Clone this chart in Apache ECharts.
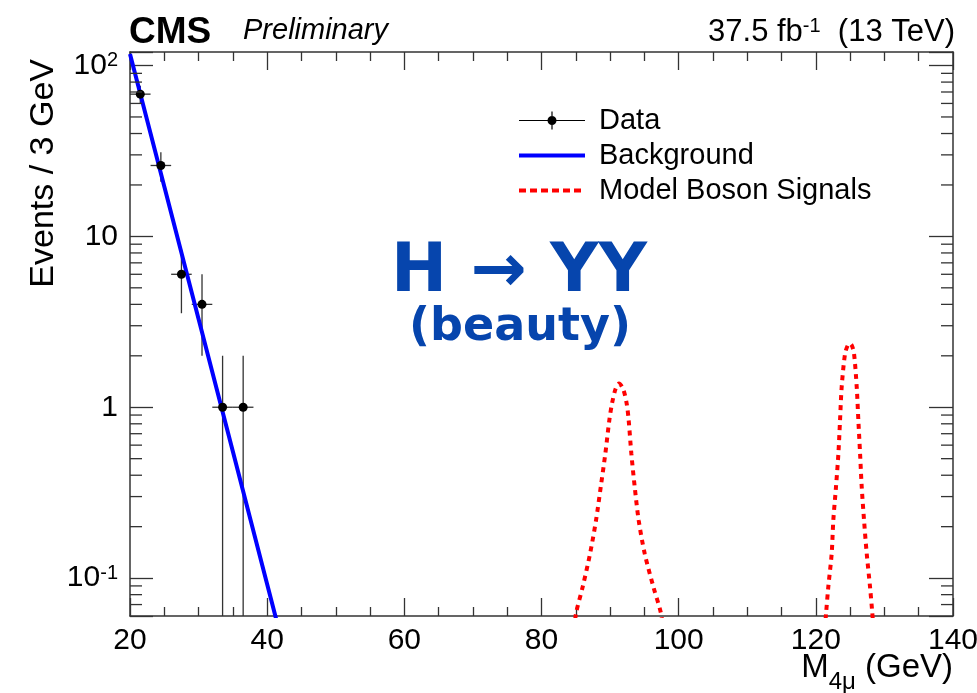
<!DOCTYPE html>
<html>
<head>
<meta charset="utf-8">
<script src="https://cdn.jsdelivr.net/npm/echarts@6/dist/echarts.min.js"></script>
<style>
  html, body { margin: 0; padding: 0; background: #ffffff; }
  #chart { width: 977px; height: 693px; }
</style>
</head>
<body>
<div id="chart"></div>
<script>
// Four-muon invariant mass spectrum, 3 GeV bins
const dataMass = [21.5, 24.5, 27.5, 30.5, 33.5, 36.5];
const dataEvents = [68, 26, 6, 4, 1, 1];
const dataErrDown = [8.2, 5.1, 2.45, 2.0, 1.0, 1.0];
const dataErrUp = [8.2, 5.1, 2.45, 2.0, 1.0, 1.0];
const binHalfWidth = [1.5, 1.5, 1.5, 1.5, 1.5, 1.5];

// Exponential background fit
const bkgMass = [20, 25, 30, 35, 40, 42];
const bkgEvents = [117, 19.6, 3.28, 0.55, 0.092, 0.045];

// Signal shapes near the Z and H masses
const sigZMass = [84.8, 85.03, 86.01, 87.08, 87.95, 88.64, 89.31, 89.89, 90.28, 90.8, 91.3, 91.9, 92.42, 92.71, 93.1, 93.59, 94.17, 95.05, 96.31, 97.43, 97.7];
const sigZEvents = [0.05, 0.062, 0.089, 0.139, 0.218, 0.342, 0.536, 0.839, 1.05, 1.28, 1.376, 1.28, 1.05, 0.839, 0.536, 0.342, 0.218, 0.139, 0.089, 0.062, 0.05];
const sigHMass = [121.3, 121.49, 121.82, 122.31, 122.55, 122.94, 123.29, 123.53, 123.77, 124.26, 124.65, 124.95, 125.25, 125.57, 125.96, 126.2, 126.45, 126.69, 127.03, 127.42, 127.9, 128.24, 128.4];
const sigHEvents = [0.05, 0.062, 0.089, 0.139, 0.218, 0.342, 0.536, 0.839, 1.316, 2.06, 2.3, 2.36, 2.3, 2.06, 1.316, 0.839, 0.536, 0.342, 0.218, 0.139, 0.089, 0.062, 0.05];

// Axis ranges and tick values
const X_MIN = 20, X_MAX = 140, X_STEP = 20;
const Y_MIN = 0.06, Y_MAX = 120;
const yMinorTicks = [0.07, 0.08, 0.09, 0.2, 0.3, 0.4, 0.5, 0.6, 0.7, 0.8, 0.9,
  2, 3, 4, 5, 6, 7, 8, 9, 20, 30, 40, 50, 60, 70, 80, 90];

const FONT = '"Liberation Sans", Arial, Helvetica, sans-serif';
const BIG_FONT = '"DejaVu Sans", sans-serif';
const FRAME = '#333333';
const zip = (a, b) => a.map((v, i) => [v, b[i]]);

// Legend glyph for the data points: horizontal + vertical bar with a dot
const dataIcon = 'path://M0 8.4H66V9.6H0Z M32.4 0H33.6V18H32.4Z M37.5 9A4.5 4.5 0 1 1 28.5 9A4.5 4.5 0 1 1 37.5 9Z';

function logLabel(v) {
  const e = Math.round(Math.log10(v));
  if (Math.abs(v / Math.pow(10, e) - 1) > 1e-6) return '';
  if (e === 0) return '1';
  if (e === 1) return '10';
  return '10{sup|' + e + '}';
}

const xAxisBase = {
  type: 'value', min: X_MIN, max: X_MAX, interval: X_STEP,
  axisLine: { show: true, onZero: false, lineStyle: { color: FRAME, width: 1.5 } },
  axisTick: { show: true, inside: true, length: 18, lineStyle: { color: FRAME, width: 1.3 } },
  minorTick: { show: true, splitNumber: 4, length: 9, lineStyle: { color: FRAME, width: 1.3 } },
  splitLine: { show: false }, minorSplitLine: { show: false }
};
const yAxisBase = {
  type: 'log', logBase: 10, min: Y_MIN, max: Y_MAX,
  axisLine: { show: true, onZero: false, lineStyle: { color: FRAME, width: 1.5 } },
  axisTick: { show: true, inside: true, length: 23, lineStyle: { color: FRAME, width: 1.3 } },
  splitLine: { show: false }
};

const chart = echarts.init(document.getElementById('chart'), null, { renderer: 'canvas' });

chart.setOption({
  animation: false,
  backgroundColor: '#ffffff',
  textStyle: { fontFamily: FONT },
  grid: { left: 130, right: 24, top: 52, bottom: 77, containLabel: false, outerBoundsMode: 'none' },
  xAxis: [
    Object.assign({}, xAxisBase, {
      position: 'bottom',
      axisLabel: { show: true, showMinLabel: true, showMaxLabel: true, hideOverlap: false,
        margin: 10, fontSize: 30, color: '#000', fontFamily: FONT }
    }),
    Object.assign({}, xAxisBase, { position: 'top', axisLabel: { show: false } })
  ],
  yAxis: [
    Object.assign({}, yAxisBase, {
      position: 'left',
      axisLabel: {
        show: true, margin: 12, fontSize: 30, color: '#000', fontFamily: FONT,
        formatter: logLabel,
        rich: { sup: { fontSize: 20, verticalAlign: 'top', color: '#000', fontFamily: FONT } }
      }
    }),
    Object.assign({}, yAxisBase, { position: 'right', axisTick: Object.assign({}, yAxisBase.axisTick, { length: 24 }), axisLabel: { show: false } })
  ],
  legend: {
    orient: 'vertical', left: 512, top: 101,
    itemWidth: 66, itemHeight: 18, itemGap: 6,
    selectedMode: false,
    textStyle: { fontSize: 29, color: '#000', fontFamily: FONT, padding: [0, 0, 0, 9] },
    data: [
      { name: 'Data', icon: dataIcon },
      { name: 'Background', itemStyle: { opacity: 0 }, lineStyle: { width: 4, color: '#0000ff' } },
      { name: 'Model Boson Signals', itemStyle: { opacity: 0 }, lineStyle: { width: 4, color: '#ff0000', type: [7, 4] } }
    ]
  },
  series: [
    {
      name: 'DataErrors', type: 'custom', silent: true, z: 2,
      xAxisIndex: 0, yAxisIndex: 0,
      encode: { x: 0, y: 1 },
      data: dataMass.map((x, i) => [x, dataEvents[i], binHalfWidth[i], dataErrDown[i], dataErrUp[i]]),
      renderItem: function (params, api) {
        const x = api.value(0), y = api.value(1), xe = api.value(2);
        const lo = Math.max(y - api.value(3), Y_MIN), hi = y + api.value(4);
        const pl = api.coord([x - xe, y]), pr = api.coord([x + xe, y]);
        const pt = api.coord([x, hi]), pb = api.coord([x, lo]);
        const st = { stroke: '#333', lineWidth: 1.3 };
        return { type: 'group', children: [
          { type: 'line', shape: { x1: pl[0], y1: pl[1], x2: pr[0], y2: pr[1] }, style: st },
          { type: 'line', shape: { x1: pt[0], y1: pt[1], x2: pb[0], y2: pb[1] }, style: st }
        ] };
      }
    },
    {
      name: 'Background', type: 'line', z: 3,
      data: zip(bkgMass, bkgEvents),
      symbol: 'none', showSymbol: false,
      lineStyle: { color: '#0000ff', width: 4 },
      itemStyle: { color: '#0000ff' }
    },
    {
      name: 'Model Boson Signals', type: 'line', z: 3,
      data: zip(sigZMass, sigZEvents),
      symbol: 'none', showSymbol: false, smooth: 0.3,
      lineStyle: { color: '#ff0000', width: 4, type: [5, 5] },
      itemStyle: { color: '#ff0000' }
    },
    {
      name: 'Model Boson Signals', type: 'line', z: 3,
      data: zip(sigHMass, sigHEvents),
      symbol: 'none', showSymbol: false, smooth: 0.3,
      lineStyle: { color: '#ff0000', width: 4, type: [5, 5] },
      itemStyle: { color: '#ff0000' }
    },
    {
      name: 'Data', type: 'scatter', z: 4,
      data: zip(dataMass, dataEvents),
      symbol: 'circle', symbolSize: 9,
      itemStyle: { color: '#000000', opacity: 1 }
    },
    {
      name: 'MinorTicks', type: 'custom', silent: true, z: 5,
      xAxisIndex: 0, yAxisIndex: 0,
      encode: { x: 0, y: 1 },
      data: yMinorTicks.map(v => [X_MIN, v]),
      renderItem: function (params, api) {
        const v = api.value(1);
        const pl = api.coord([X_MIN, v]), pr = api.coord([X_MAX, v]);
        const st = { stroke: FRAME, lineWidth: 1.3 };
        return { type: 'group', children: [
          { type: 'line', shape: { x1: pl[0], y1: pl[1], x2: pl[0] + 12, y2: pl[1] }, style: st },
          { type: 'line', shape: { x1: pr[0], y1: pr[1], x2: pr[0] - 12, y2: pr[1] }, style: st }
        ] };
      }
    }
  ],
  graphic: [
    { type: 'text', x: 129, y: 33, style: { text: 'CMS', fontFamily: FONT, fontWeight: 'bold', fontSize: 37, fill: '#000', align: 'left', verticalAlign: 'middle' } },
    { type: 'text', x: 243, y: 31, style: { text: 'Preliminary', fontFamily: FONT, fontStyle: 'italic', fontSize: 29, fill: '#000', align: 'left', verticalAlign: 'middle' } },
    { type: 'text', x: 955, y: 32, style: {
        text: '{n|37.5 fb}{s|-1}{n|  (13 TeV)}', align: 'right', verticalAlign: 'middle',
        rich: { n: { fontSize: 31, fontFamily: FONT, fill: '#000' }, s: { fontSize: 20, fontFamily: FONT, fill: '#000', verticalAlign: 'top' } } } },
    { type: 'text', x: 44, y: 59, rotation: Math.PI / 2, style: { text: 'Events / 3 GeV', fontFamily: FONT, fontSize: 34, fill: '#000', align: 'right', verticalAlign: 'middle' } },
    { type: 'text', x: 953, y: 673, style: {
        text: '{m|M}{s|4μ}{m| (GeV)}', align: 'right', verticalAlign: 'middle',
        rich: { m: { fontSize: 33, fontFamily: FONT, fill: '#000', padding: [0, 0, 10, 0] }, s: { fontSize: 24, fontFamily: FONT, fill: '#000', verticalAlign: 'bottom' } } } },
    { type: 'text', x: 519, y: 274, style: { text: 'H → YY', fontFamily: BIG_FONT, fontWeight: 'bold', fontSize: 67, fill: '#0645ad', align: 'center', verticalAlign: 'middle' } },
    { type: 'text', x: 520, y: 328, style: { text: '(beauty)', fontFamily: BIG_FONT, fontWeight: 'bold', fontSize: 46, fill: '#0645ad', align: 'center', verticalAlign: 'middle' } }
  ]
});
</script>
</body>
</html>
